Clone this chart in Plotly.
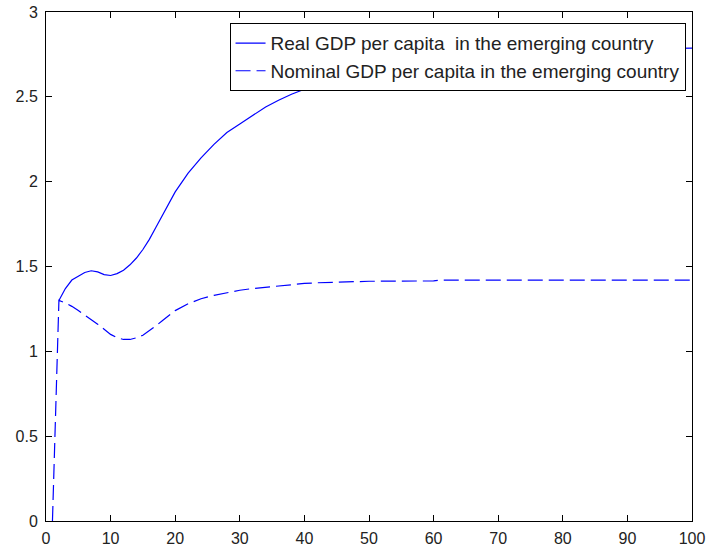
import plotly.graph_objects as go

# Real GDP per capita (solid) - readings from the chart
real_x = [2, 3, 4, 5, 6, 7, 8, 9, 10, 11, 12, 13, 14, 15, 16, 17, 18, 19, 20,
          22, 24, 26, 28, 30, 32, 34, 36, 38, 40, 42, 45, 50, 55, 60, 70, 80, 90, 100]
real_y = [1.30, 1.37, 1.42, 1.445, 1.465, 1.475, 1.468, 1.452, 1.447, 1.458, 1.478, 1.51, 1.55, 1.60,
          1.66, 1.73, 1.80, 1.87, 1.94, 2.05, 2.14, 2.22, 2.29, 2.34, 2.39, 2.44, 2.48, 2.515, 2.545, 2.575,
          2.62, 2.67, 2.705, 2.73, 2.76, 2.775, 2.783, 2.787]

# Nominal GDP per capita (dashed)
nom_x = [1, 2, 3, 4, 5, 6, 7, 8, 9, 10, 11, 12, 13, 14, 15, 16, 17, 18, 19, 20,
         22, 24, 26, 28, 30, 32, 34, 36, 38, 40, 42, 45, 50, 55, 60, 61, 70, 80, 90, 100]
nom_y = [0.0, 1.30, 1.285, 1.265, 1.24, 1.215, 1.19, 1.16, 1.13, 1.10, 1.08, 1.07, 1.07, 1.08, 1.095,
         1.12, 1.15, 1.18, 1.21, 1.24, 1.28, 1.31, 1.33, 1.345, 1.36, 1.37, 1.378, 1.386, 1.394, 1.40,
         1.404, 1.408, 1.413, 1.414, 1.415, 1.42, 1.42, 1.42, 1.42, 1.42]

x_ticks = [0, 10, 20, 30, 40, 50, 60, 70, 80, 90, 100]
y_ticks = [0, 0.5, 1, 1.5, 2, 2.5, 3]
y_tick_text = ["0", "0.5", "1", "1.5", "2", "2.5", "3"]

font_family = "Liberation Sans, Arial, sans-serif"

fig = go.Figure()
fig.add_trace(go.Scatter(
    x=real_x, y=real_y, mode="lines",
    name="Real GDP per capita  in the emerging country",
    line=dict(color="#0000ff", width=1.2),
))
fig.add_trace(go.Scatter(
    x=nom_x, y=nom_y, mode="lines",
    name="Nominal GDP per capita in the emerging country",
    line=dict(color="#0000ff", width=1.2, dash="15px,6px"),
))

axis_common = dict(
    showgrid=False, zeroline=False, showline=True, linecolor="black", linewidth=1,
    mirror="ticks", ticks="inside", ticklen=6, tickcolor="black", tickwidth=1,
    tickfont=dict(family=font_family, size=16, color="#222222"),
    automargin=False,
)

fig.update_layout(
    width=708, height=552,
    margin=dict(l=46, r=16, t=12, b=31),
    paper_bgcolor="white", plot_bgcolor="white",
    showlegend=True,
    legend=dict(
        x=0.99, y=0.978, xanchor="right", yanchor="top",
        bgcolor="white", bordercolor="black", borderwidth=1,
        font=dict(family=font_family, size=19, color="#222222"),
        tracegroupgap=0, itemwidth=30,
        entrywidth=480, entrywidthmode="pixels",
    ),
    xaxis=dict(range=[0, 100], tickvals=x_ticks, ticklabelstandoff=3, **axis_common),
    yaxis=dict(range=[0, 3], tickvals=y_ticks, ticktext=y_tick_text, ticklabelstandoff=4, **axis_common),
)

fig.write_html("out.html")
